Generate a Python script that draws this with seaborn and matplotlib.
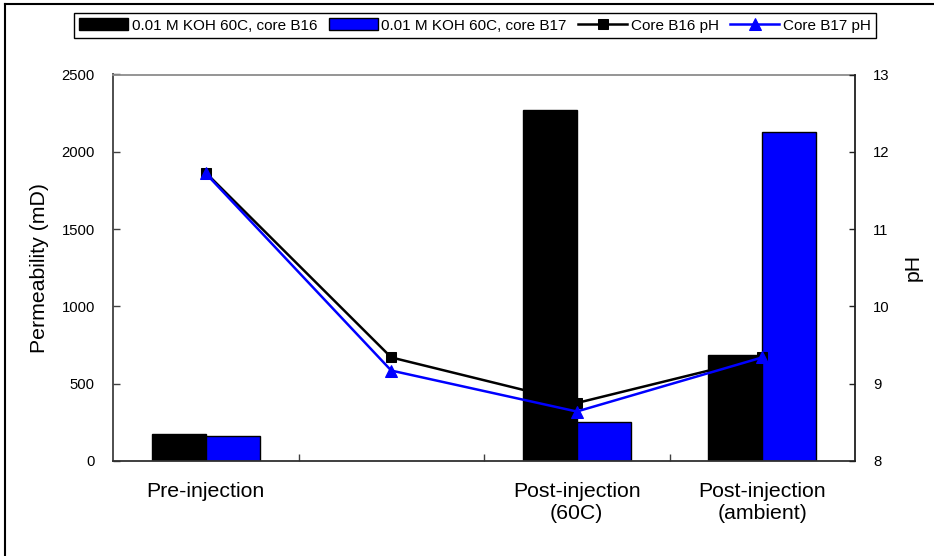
import numpy as np
import pandas as pd
import matplotlib
matplotlib.use("Agg")
import matplotlib.pyplot as plt
from matplotlib.lines import Line2D
import seaborn as sns

# ---- data ----
categories = ["Pre-injection", "", "Post-injection\n(60C)", "Post-injection\n(ambient)"]
perm_b16 = [172, np.nan, 2272, 686]
perm_b17 = [162, np.nan, 250, 2126]
ph_b16 = [11.73, 9.34, 8.75, 9.34]
ph_b17 = [11.72, 9.17, 8.64, 9.34]
bar_labels = ["0.01 M KOH 60C, core B16", "0.01 M KOH 60C, core B17"]
line_labels = ["Core B16 pH", "Core B17 pH"]
perm_ticks = [0, 500, 1000, 1500, 2000, 2500]
ph_ticks = [8, 9, 10, 11, 12, 13]

plt.rcParams["font.family"] = ["Liberation Sans", "DejaVu Sans"]
plt.rcParams["text.color"] = "black"
plt.rcParams["axes.labelcolor"] = "black"
plt.rcParams["xtick.color"] = "black"
plt.rcParams["ytick.color"] = "black"

rows = []
for cat, a, b in zip(categories, perm_b16, perm_b17):
    if not np.isnan(a):
        rows.append({"stage": cat, "core": bar_labels[0], "perm": a})
    if not np.isnan(b):
        rows.append({"stage": cat, "core": bar_labels[1], "perm": b})
df = pd.DataFrame(rows)

fig = plt.figure(figsize=(9.34, 5.56), dpi=100)
ax = fig.add_axes([113 / 934, 1 - 461 / 556, (855 - 113) / 934, (461 - 74.5) / 556])

sns.barplot(data=df, x="stage", y="perm", hue="core", order=categories,
            hue_order=bar_labels, palette=["black", "#0000ff"], saturation=1, width=0.58,
            edgecolor="black", linewidth=1.0, errorbar=None, ax=ax, legend=False)

ax.set_xlim(-0.5, len(categories) - 0.5)
ax.set_ylim(0, 2500)
ax.set_yticks(perm_ticks)
ax.set_xlabel("")
ax.set_ylabel("Permeability (mD)", fontsize=15.3, labelpad=9)
positions = np.arange(len(categories))
ax.set_xticks(positions)
ax.set_xticklabels(categories, fontsize=15.3)
ax.set_xticks(positions[:-1] + 0.5, minor=True)
ax.tick_params(axis="x", which="major", length=0, pad=15)
ax.tick_params(axis="x", which="minor", direction="in", length=5, width=1,
               color="#404040", bottom=True)
ax.tick_params(axis="y", direction="in", length=5, width=1, labelsize=10.7, pad=13,
               left=True, color="#404040")
ax.spines["top"].set_color("#8c8c8c")
ax.spines["left"].set_color("#404040")
ax.spines["bottom"].set_color("#303030")
ax.spines["right"].set_visible(False)
for s in ax.spines.values():
    s.set_linewidth(1.3)

ax2 = ax.twinx()
sns.lineplot(x=positions, y=ph_b16, ax=ax2, color="black", marker="s", markersize=7,
             markeredgecolor="black", linewidth=1.8)
sns.lineplot(x=positions, y=ph_b17, ax=ax2, color="#0000ff", marker="^", markersize=8,
             markeredgecolor="#0000ff", linewidth=1.8)
ax2.set_ylim(8, 13)
ax2.set_yticks(ph_ticks)
ax2.set_ylabel("pH", fontsize=15.3, labelpad=10)
ax2.tick_params(axis="y", direction="in", length=4, width=1, labelsize=10.7, pad=13,
                right=True, color="#202020")
for k in ["top", "left", "bottom"]:
    ax2.spines[k].set_visible(False)
ax2.spines["right"].set_color("#202020")
ax2.spines["right"].set_linewidth(1.3)

# legend
handles = [ax.containers[0], ax.containers[1]] + list(ax2.get_lines()[:2])
labels = bar_labels + line_labels
leg = fig.legend(handles, labels, loc="center", bbox_to_anchor=(475 / 934, 1 - 25.5 / 556),
                 ncol=4, fontsize=11, frameon=True, fancybox=False, edgecolor="black",
                 framealpha=1, handlelength=3.2, handleheight=0.8, handletextpad=0.25,
                 columnspacing=0.75, borderpad=0.33, borderaxespad=0)
leg.get_frame().set_linewidth(1.0)

# figure border (top and left)
fig.add_artist(Line2D([5 / 934, 5 / 934], [0, 1 - 4 / 556], color="black", lw=1.5,
                      transform=fig.transFigure))
fig.add_artist(Line2D([5 / 934, 1], [1 - 4 / 556, 1 - 4 / 556], color="black", lw=1.5,
                      transform=fig.transFigure))

fig.savefig("out.png", dpi=100)
